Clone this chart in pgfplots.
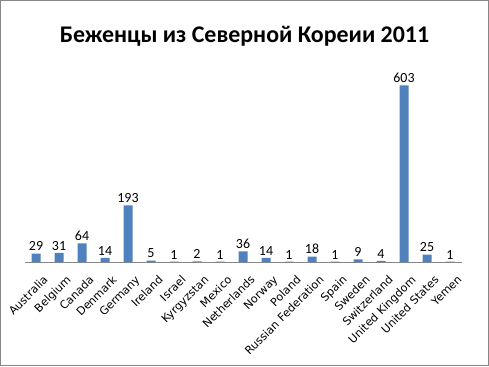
\documentclass[border=0pt]{standalone}
\usepackage{pgfplots}
\pgfplotsset{compat=1.18}
\usepackage{fontspec}
\setmainfont{Carlito}
\newfontfamily\tickfont{DejaVu Sans}
\definecolor{barblue}{HTML}{4F81BD}
\definecolor{bordergray}{HTML}{868686}
\begin{document}
\begin{tikzpicture}[x=1bp,y=1bp]
\draw[bordergray, line width=1bp] (0.5,0.5) rectangle (488.5,365.5);
\node[font=\fontsize{24}{28}\selectfont\bfseries] at (244.5,330) {Беженцы из Северной Кореии 2011};
\begin{axis}[
  at={(36bp,104bp)}, anchor=origin,
  scale only axis, width=437bp, height=205bp,
  xmin=-0.5, xmax=18.5, ymin=0, ymax=700,
  axis x line*=bottom, axis y line=none,
  x axis line style={bordergray, line width=0.8bp, -},
  ytick=\empty,
  xtick={0,...,18}, major tick length=0,
  xticklabels={Australia,Belgium,Canada,Denmark,Germany,Ireland,Israel,Kyrgyzstan,Mexico,Netherlands,Norway,Poland,Russian Federation,Spain,Sweden,Switzerland,United Kingdom,United States,Yemen},
  xticklabel style={xshift=6.5bp, yshift=-11bp, rotate=45, anchor=north east, inner sep=1pt, font=\tickfont\fontsize{11.2}{13}\selectfont},
  ybar, bar width=9bp,
  nodes near coords,
  /pgf/number format/assume math mode=true,
  nodes near coords style={font=\fontsize{14}{16}\selectfont, black, inner sep=2.5bp},
  clip=false,
]
\addplot[fill=barblue, draw=none] coordinates {
(0,29) (1,31) (2,64) (3,14) (4,193) (5,5) (6,1) (7,2) (8,1) (9,36) (10,14) (11,1) (12,18) (13,1) (14,9) (15,4) (16,603) (17,25) (18,1)};
\end{axis}
\end{tikzpicture}
\end{document}
